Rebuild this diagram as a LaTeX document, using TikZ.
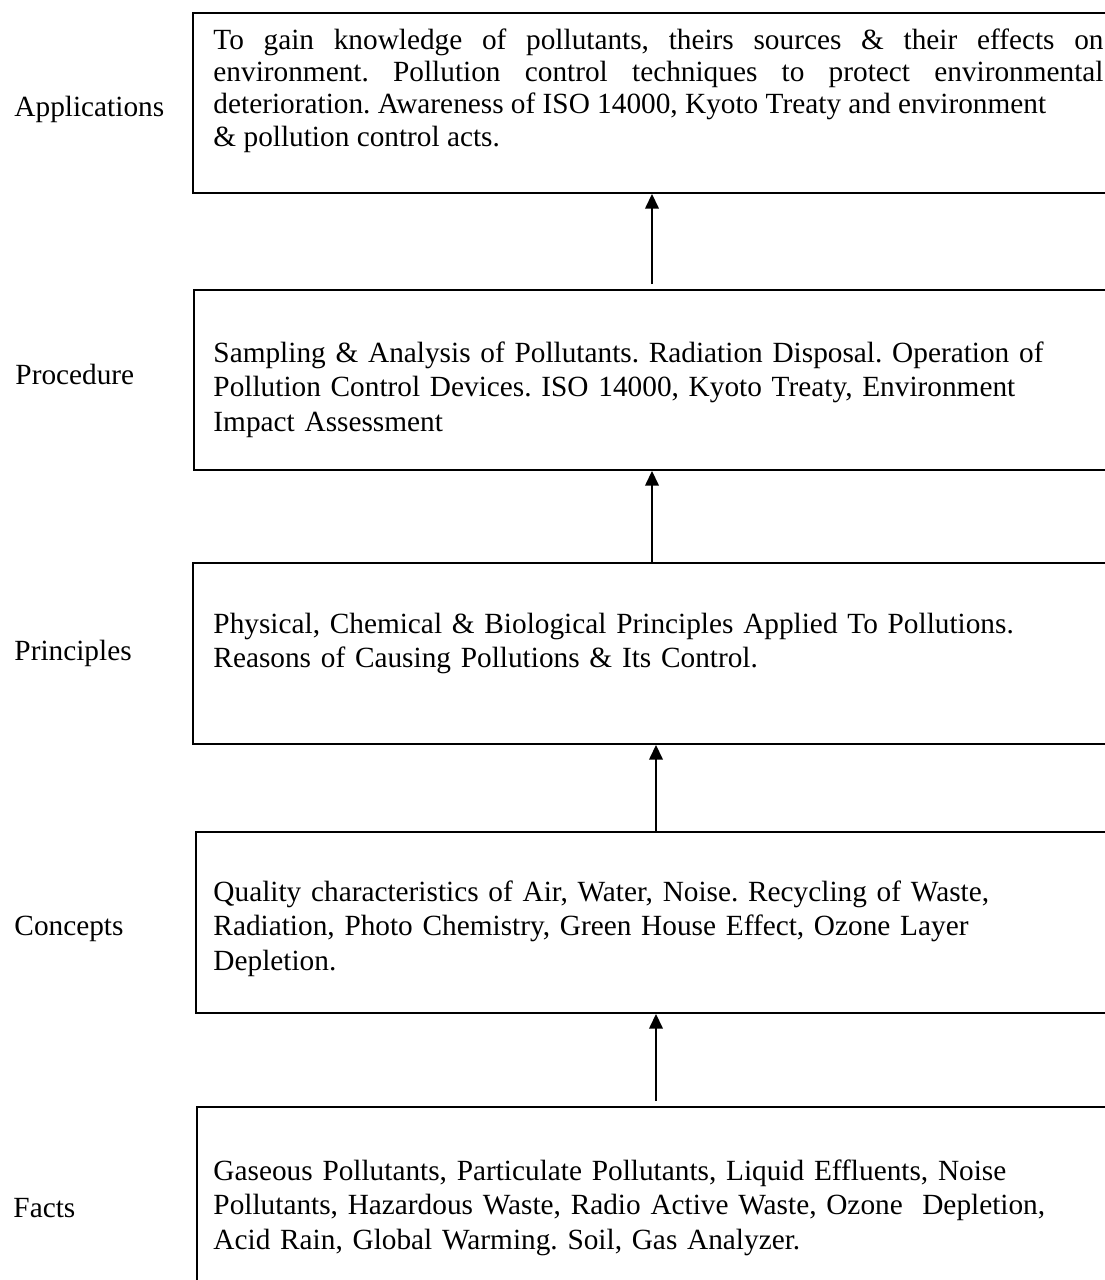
\documentclass[tikz,border=0pt]{standalone}
\usepackage{fontspec}
\setmainfont{Liberation Serif}
\usetikzlibrary{arrows.meta,positioning}
\frenchspacing

\newcommand{\pxu}{0.4096pt}

\begin{document}
\begin{tikzpicture}[x=\pxu, y=-\pxu,
    level/.style={draw, line width=0.8pt, anchor=north west, inner sep=0pt,
      minimum width=940*\pxu},
    body/.style={anchor=base west, inner sep=0pt, text width=890*\pxu,
      font=\fontsize{12pt}{14.3pt}\selectfont},
    tag/.style={anchor=base west, inner sep=0pt,
      font=\fontsize{12pt}{14.3pt}\selectfont},
    flow/.style={line width=0.6pt, -{Triangle[length=6pt,width=5.6pt]}}]
    \clip (0,0) rectangle (1105,1280);

    % Boxes
    \node[level, minimum height=180*\pxu] (appbox) at (192,12) {};
    \node[level, minimum height=180*\pxu] (probox) at (193,289) {};
    \node[level, minimum height=181*\pxu] (prinbox) at (192,562) {};
    \node[level, minimum height=181*\pxu] (conbox) at (195,831) {};
    \node[level, minimum height=220*\pxu] (factbox) at (196,1106) {};

    % Box texts
    \node[body, align=justify, font=\fontsize{12pt}{13.3pt}\selectfont] (apptext) at (213,49) {To gain knowledge of pollutants, theirs sources \& their effects on\linebreak environment. Pollution control techniques to protect environmental\linebreak deterioration. Awareness of ISO 14000, Kyoto Treaty and environment\\ \& pollution control acts.};
    \node[body, align=left] (protext) at (213,362) {Sampling \& Analysis of Pollutants. Radiation Disposal. Operation of\\ Pollution Control Devices. ISO 14000, Kyoto Treaty, Environment\\ Impact Assessment};
    \node[body, align=left] (printext) at (213,633) {Physical, Chemical \& Biological Principles Applied To Pollutions.\\ Reasons of Causing Pollutions \& Its Control.};
    \node[body, align=left] (context) at (213,901) {Quality characteristics of Air, Water, Noise. Recycling of Waste,\\ Radiation, Photo Chemistry, Green House Effect, Ozone Layer\\ Depletion.};
    \node[body, align=left] (facttext) at (213,1180) {Gaseous Pollutants, Particulate Pollutants, Liquid Effluents, Noise\\ Pollutants, Hazardous Waste, Radio Active Waste, Ozone\ \ Depletion,\\ Acid Rain, Global Warming. Soil, Gas Analyzer.};

    % Level names
    \node[tag] (applbl) at (14,116) {Applications};
    \node[tag] (prolbl) at (15,384) {Procedure};
    \node[tag] (prinlbl) at (14,660) {Principles};
    \node[tag] (conlbl) at (14,935) {Concepts};
    \node[tag] (factlbl) at (13,1217) {Facts};

    % Arrows
    \draw[flow] ([xshift=459*\pxu, yshift=2pt]probox.north west) -- ([xshift=460*\pxu]appbox.south west);
    \draw[flow] ([xshift=460*\pxu]prinbox.north west) -- ([xshift=459*\pxu]probox.south west);
    \draw[flow] ([xshift=461*\pxu]conbox.north west) -- ([xshift=464*\pxu]prinbox.south west);
    \draw[flow] ([xshift=460*\pxu, yshift=2pt]factbox.north west) -- ([xshift=461*\pxu]conbox.south west);
\end{tikzpicture}
\end{document}
